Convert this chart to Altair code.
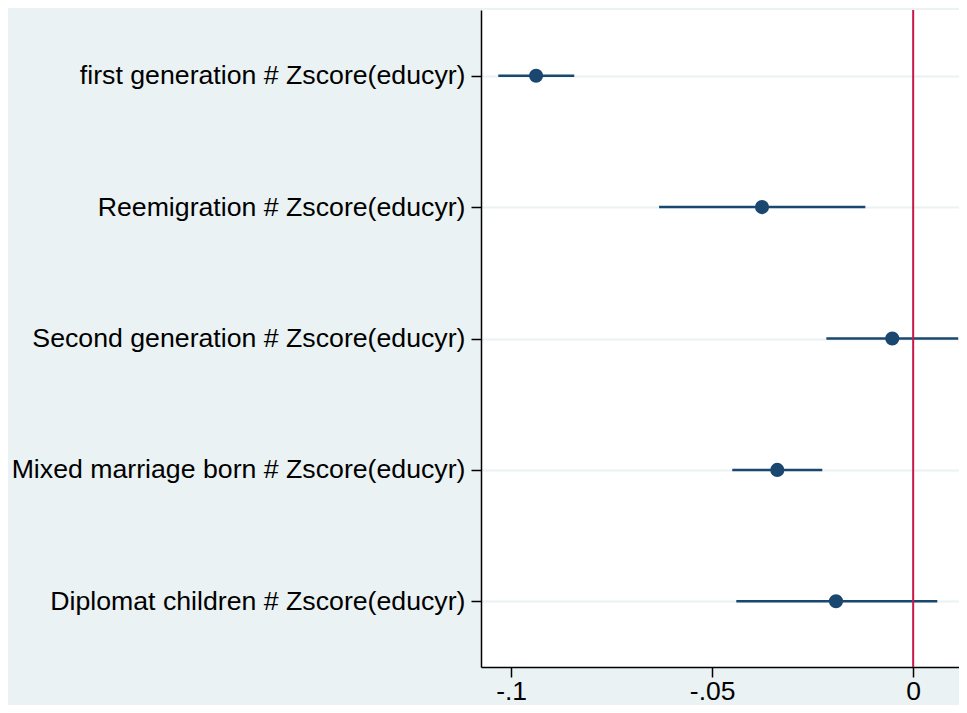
import altair as alt
import pandas as pd

labels = [
    "first generation # Zscore(educyr)",
    "Reemigration # Zscore(educyr)",
    "Second generation # Zscore(educyr)",
    "Mixed marriage born # Zscore(educyr)",
    "Diplomat children # Zscore(educyr)",
]
coef = [-0.0938, -0.0376, -0.0052, -0.0338, -0.0192]
ci_low = [-0.1032, -0.0632, -0.0216, -0.0450, -0.0440]
ci_high = [-0.0843, -0.0119, 0.0112, -0.0226, 0.0060]
x_ticks = [-0.1, -0.05, 0]
ref_line = [0]

df = pd.DataFrame({"label": labels, "coef": coef, "lo": ci_low, "hi": ci_high})
ref = pd.DataFrame({"x": ref_line})

BG = "#EAF2F3"
NAVY = "#1a476f"
RED = "#c8174a"
FONT = "Liberation Sans"

x_scale = alt.Scale(domain=[-0.1075, 0.0114], nice=False, zero=False)
y_scale = alt.Scale(type="point", domain=labels, padding=0.5)

x_axis = alt.Axis(
    values=x_ticks,
    labelExpr="datum.value == 0 ? '0' : replace(toString(datum.value), '0.', '.')",
    title=None, grid=False, tickSize=10, tickColor="#000000", tickWidth=1.5,
    domainColor="#000000", domainWidth=1.5, labelFontSize=26.5, labelFont=FONT,
    labelColor="#000000", labelPadding=1, labelFlush=False,
)
y_axis = alt.Axis(
    title=None, grid=True, gridColor=BG, gridWidth=2, tickSize=10,
    tickColor="#000000", tickWidth=1.5, domainColor="#000000", domainWidth=1.5,
    labelFontSize=26.7, labelFont=FONT, labelColor="#000000", labelPadding=6,
    labelLimit=600,
)

ci = alt.Chart(df).mark_rule(color=NAVY, strokeWidth=2.5).encode(
    x=alt.X("lo:Q", scale=x_scale, axis=x_axis),
    x2="hi:Q",
    y=alt.Y("label:N", scale=y_scale, axis=y_axis, sort=labels),
)
pts = alt.Chart(df).mark_circle(color=NAVY, size=200, opacity=1).encode(
    x=alt.X("coef:Q", scale=x_scale),
    y=alt.Y("label:N", scale=y_scale, sort=labels),
)
vline = alt.Chart(ref).mark_rule(color=RED, strokeWidth=2).encode(
    x=alt.X("x:Q", scale=x_scale),
)

chart = alt.layer(ci, pts, vline).properties(
    width=478,
    height=657,
    background=BG,
    autosize=alt.AutoSizeParams(type="none"),
    padding={"left": 473, "top": 2, "right": 0, "bottom": 38},
).configure_view(fill="#ffffff", stroke=None)

chart.save("out.html", embed_options={"renderer": "svg", "actions": False})
